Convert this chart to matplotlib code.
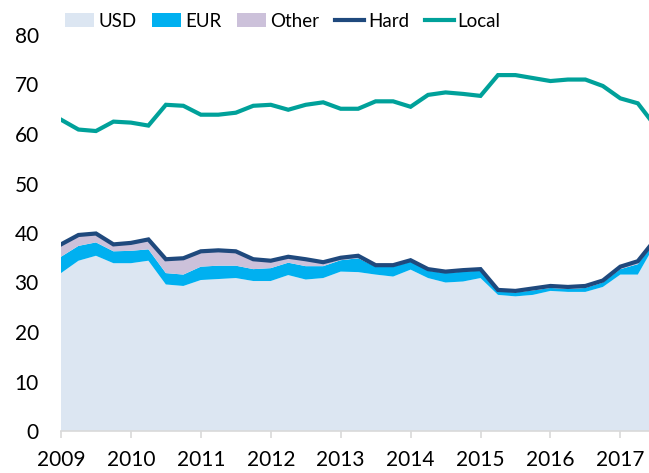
import matplotlib
matplotlib.use("Agg")
import matplotlib.pyplot as plt
import numpy as np
from matplotlib.patches import Patch
from matplotlib.lines import Line2D

plt.rcParams['font.family'] = ['Lato', 'DejaVu Sans']

# Quarterly data 2009Q1 .. 2017Q3
quarters = np.arange(35)
years = [2009, 2010, 2011, 2012, 2013, 2014, 2015, 2016, 2017]
usd = [31.9, 34.4, 35.4, 33.9, 33.9, 34.4, 29.6, 29.3, 30.5, 30.7, 30.9, 30.3,
       30.3, 31.5, 30.6, 30.9, 32.2, 32.1, 31.6, 31.2, 32.6, 30.9, 30.0, 30.2,
       30.9, 27.5, 27.2, 27.5, 28.3, 28.1, 28.1, 29.1, 31.6, 31.6, 37.8]
eur = [3.3, 3.0, 2.7, 2.4, 2.5, 2.3, 2.3, 2.3, 2.7, 2.7, 2.5, 2.4,
       2.6, 2.5, 2.7, 2.4, 2.3, 2.8, 1.6, 2.0, 1.6, 1.5, 1.9, 2.0,
       1.5, 0.7, 0.8, 0.9, 0.6, 0.6, 0.8, 0.9, 1.1, 2.1, 0.5]
other = [2.5, 2.2, 1.8, 1.4, 1.6, 2.0, 2.8, 3.3, 3.1, 3.1, 2.9, 2.0,
         1.5, 1.2, 1.4, 0.8, 0.5, 0.5, 0.3, 0.3, 0.3, 0.3, 0.3, 0.3,
         0.3, 0.3, 0.3, 0.4, 0.4, 0.4, 0.4, 0.4, 0.5, 0.6, 0.4]
local = [62.9, 60.9, 60.6, 62.5, 62.3, 61.7, 65.9, 65.7, 63.9, 63.9, 64.3, 65.7,
         65.9, 64.9, 65.9, 66.4, 65.1, 65.1, 66.6, 66.6, 65.5, 67.9, 68.4, 68.1,
         67.7, 71.9, 71.9, 71.3, 70.7, 71.0, 71.0, 69.7, 67.2, 66.2, 61.6]

c_usd = '#dce6f2'
c_eur = '#00b0f0'
c_other = '#ccc1da'
c_hard = '#1f497d'
c_local = '#00a19a'

x = 2009 + quarters * 0.25
usd_a = np.array(usd)
eur_a = np.array(eur)
oth_a = np.array(other)
hard = usd_a + eur_a + oth_a

fig = plt.figure(figsize=(6.49, 4.73), dpi=100)
ax = fig.add_axes([61/649, 1 - 431/473, 1 - 61/649, (431 - 35)/473])

ax.stackplot(x, usd_a, eur_a, oth_a, colors=[c_usd, c_eur, c_other], linewidth=0)
ax.plot(x, hard, color=c_hard, lw=3.0, solid_joinstyle='miter')
ax.plot(x, local, color=c_local, lw=3.0, solid_joinstyle='miter')

ax.set_xlim(2009, 2017.41)
ax.set_ylim(0, 80)
ax.set_yticks(range(0, 81, 10))
ax.set_xticks(years)
ax.set_xticklabels([str(y) for y in years])
for s in ['top', 'right', 'left']:
    ax.spines[s].set_visible(False)
ax.spines['bottom'].set_color('#d9d9d9')
ax.spines['bottom'].set_linewidth(1.2)
ax.tick_params(axis='x', direction='out', length=5, width=1.2, color='#d9d9d9',
               labelsize=15, pad=9)
ax.tick_params(axis='y', length=0, labelsize=15, pad=16)

handles = [Patch(facecolor=c_usd, label='USD'),
           Patch(facecolor=c_eur, label='EUR'),
           Patch(facecolor=c_other, label='Other'),
           Line2D([], [], color=c_hard, lw=3, label='Hard'),
           Line2D([], [], color=c_local, lw=3, label='Local')]
fig.legend(handles=handles, loc='center', bbox_to_anchor=(283/649, 1 - 21/473),
           ncol=5, frameon=False, fontsize=13.5, handlelength=1.55,
           handletextpad=0.2, columnspacing=0.85, borderpad=0)

fig.savefig('out.png', dpi=100)
